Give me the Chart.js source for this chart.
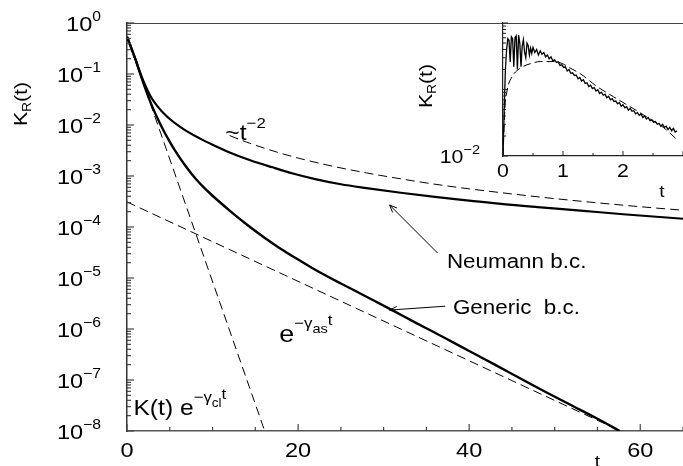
<!DOCTYPE html>
<html>
<head>
<meta charset="utf-8">
<script src="https://cdn.jsdelivr.net/npm/chart.js@4.4.0/dist/chart.umd.min.js"></script>
<style>
  body { margin: 0; background: #fff; }
  #wrap { position: relative; width: 683px; height: 466px; }
  #main { position: absolute; left: 0; top: 0; }
  #inset { position: absolute; left: 400px; top: 0; }
</style>
</head>
<body>
<div id="wrap">
  <canvas id="main" width="683" height="466"></canvas>
  <canvas id="inset" width="283" height="210"></canvas>
</div>
<script>
// main panel: K_R(t) on a log axis
const yDecades = [0, -1, -2, -3, -4, -5, -6, -7, -8];
const xTicks = [0, 20, 40, 60];

const tNeumann = [0, 0.5, 1, 1.5, 2, 2.7, 3.5, 4.7, 6.6, 8.55, 10, 12, 14.4, 17, 19.4, 22, 25, 28, 32, 36, 40, 44, 48, 53, 58, 65];
const kNeumann = [0.537, 0.324, 0.191, 0.110, 0.0676, 0.038, 0.024, 0.0145, 0.0083, 0.0054, 0.0041, 0.0029, 0.00204, 0.00148, 0.00112, 0.00087, 0.00069, 0.00058, 0.00047, 0.00039, 0.00033, 0.00028, 0.000245, 0.00021, 0.000178, 0.000145];

const tGeneric = [0, 0.5, 1, 1.5, 2, 2.5, 3, 4, 5, 6, 7, 8, 9, 10, 12, 14, 16, 18, 20, 22, 25, 28, 31, 34, 37, 40, 43, 46, 49, 52, 55, 57.6];
const kGeneric = [0.537, 0.324, 0.191, 0.107, 0.0603, 0.0355, 0.0219, 0.00955, 0.00468, 0.00251, 0.00145, 0.00089, 0.00059, 0.00041, 0.00021, 1.12e-4, 6.3e-5, 3.7e-5, 2.3e-5, 1.45e-5, 7.8e-6, 4.3e-6, 2.34e-6, 1.26e-6, 6.9e-7, 3.7e-7, 2.0e-7, 1.07e-7, 5.75e-8, 3.16e-8, 1.74e-8, 1.0e-8];

const tPower = [12, 14, 17.5, 20, 24, 28, 32, 36, 40, 45, 50, 55, 60, 65];
const kPower = [6.2e-3, 4.6e-3, 2.95e-3, 2.25e-3, 1.56e-3, 1.15e-3, 8.8e-4, 6.9e-4, 5.6e-4, 4.45e-4, 3.6e-4, 2.98e-4, 2.5e-4, 2.13e-4];

const tAsym = [0, 65];
const kAsym = [3.1e-4, 2.7e-9];

const tClassic = [0, 16.1];
const kClassic = [0.54, 1e-8];

// inset panel
const insetXTicks = [0, 1, 2];
const tInset = [0, 0.02, 0.04, 0.06, 0.08, 0.10, 0.12, 0.14, 0.16, 0.18, 0.20, 0.22, 0.24, 0.26, 0.28, 0.30, 0.32, 0.34, 0.36, 0.38, 0.40, 0.42, 0.44, 0.46, 0.48, 0.50, 0.53, 0.56, 0.59, 0.62, 0.65, 0.68, 0.71, 0.74, 0.77, 0.80, 0.83, 0.86, 0.89, 0.92, 0.95, 0.98, 1.01, 1.04, 1.07, 1.10, 1.13, 1.16, 1.19, 1.22, 1.25, 1.28, 1.31, 1.34, 1.37, 1.40, 1.43, 1.46, 1.49, 1.52, 1.55, 1.58, 1.61, 1.64, 1.67, 1.70, 1.73, 1.76, 1.79, 1.82, 1.85, 1.88, 1.91, 1.94, 1.97, 2.00, 2.03, 2.06, 2.09, 2.12, 2.15, 2.18, 2.21, 2.24, 2.27, 2.30, 2.33, 2.36, 2.39, 2.42, 2.45, 2.48, 2.51, 2.54, 2.57, 2.60, 2.63, 2.66, 2.69, 2.72, 2.75, 2.78, 2.81, 2.84, 2.87, 2.90];
const kInset = [0.010, 0.05, 0.20, 0.40, 0.58, 0.55, 0.26, 0.62, 0.58, 0.22, 0.60, 0.64, 0.20, 0.66, 0.50, 0.22, 0.45, 0.56, 0.36, 0.30, 0.50, 0.46, 0.33, 0.42, 0.35, 0.43, 0.36, 0.40, 0.33, 0.38, 0.34, 0.36, 0.31, 0.33, 0.29, 0.31, 0.27, 0.28, 0.255, 0.26, 0.23, 0.235, 0.215, 0.22, 0.19, 0.20, 0.175, 0.178, 0.162, 0.165, 0.145, 0.152, 0.134, 0.14, 0.123, 0.126, 0.111, 0.116, 0.103, 0.107, 0.095, 0.099, 0.087, 0.091, 0.082, 0.085, 0.075, 0.079, 0.070, 0.073, 0.066, 0.067, 0.061, 0.064, 0.056, 0.059, 0.053, 0.055, 0.049, 0.052, 0.047, 0.048, 0.043, 0.045, 0.041, 0.043, 0.038, 0.040, 0.036, 0.038, 0.034, 0.035, 0.032, 0.033, 0.030, 0.031, 0.028, 0.030, 0.027, 0.028, 0.025, 0.027, 0.024, 0.026, 0.023, 0.024];

const tInsetFit = [0, 0.03, 0.07, 0.15, 0.29, 0.46, 0.62, 0.85, 1.01, 1.1, 1.3, 1.56, 1.84, 2.12, 2.39, 2.67, 2.89];
const kInsetFit = [0.010, 0.049, 0.098, 0.155, 0.21, 0.245, 0.263, 0.263, 0.24, 0.215, 0.17, 0.112, 0.078, 0.055, 0.039, 0.027, 0.018];

const FONT = '"Liberation Sans", Arial, Helvetica, sans-serif';
const STRETCH = 1.12;

function pts(ts, ks) {
  return ts.map((t, i) => ({ x: t, y: ks[i] }));
}

function runsWidth(ctx, runs) {
  let w = 0;
  runs.forEach(r => {
    ctx.font = r.size + 'px ' + FONT;
    w += ctx.measureText(r.text).width * STRETCH + (r.gap || 0);
  });
  return w;
}

// draw text pieces left to right, y is the baseline
function drawRuns(ctx, runs, x, y, align) {
  const w = runsWidth(ctx, runs);
  let cx = align === 'right' ? x - w : align === 'center' ? x - w / 2 : x;
  ctx.save();
  ctx.fillStyle = '#000';
  ctx.textAlign = 'left';
  ctx.textBaseline = 'alphabetic';
  runs.forEach(r => {
    ctx.font = r.size + 'px ' + FONT;
    ctx.save();
    ctx.translate(cx, y + (r.dy || 0));
    ctx.scale(STRETCH, 1);
    ctx.fillText(r.text, 0, 0);
    ctx.restore();
    cx += ctx.measureText(r.text).width * STRETCH + (r.gap || 0);
  });
  ctx.restore();
}

function line(ctx, x1, y1, x2, y2) {
  ctx.beginPath();
  ctx.moveTo(x1, y1);
  ctx.lineTo(x2, y2);
  ctx.stroke();
}

function arrow(ctx, x1, y1, x2, y2) {
  const a = Math.atan2(y2 - y1, x2 - x1);
  ctx.save();
  ctx.strokeStyle = '#000';
  ctx.lineWidth = 1;
  line(ctx, x1, y1, x2, y2);
  line(ctx, x2, y2, x2 - 8 * Math.cos(a - 0.4), y2 - 8 * Math.sin(a - 0.4));
  line(ctx, x2, y2, x2 - 8 * Math.cos(a + 0.4), y2 - 8 * Math.sin(a + 0.4));
  ctx.restore();
}

const mainDecor = {
  id: 'mainDecor',
  afterDraw(chart) {
    const { ctx, chartArea: a, scales: { x, y } } = chart;
    ctx.save();
    ctx.strokeStyle = '#444';
    ctx.lineWidth = 1.2;
    line(ctx, a.left, a.top + 0.5, a.right, a.top + 0.5);

    // y ticks, pointing into the plot
    yDecades.forEach(d => {
      const py = y.getPixelForValue(Math.pow(10, d));
      line(ctx, a.left, py, a.left + 7, py);
      if (d < 0) {
        for (let m = 2; m <= 9; m++) {
          const pm = y.getPixelForValue(m * Math.pow(10, d));
          line(ctx, a.left, pm, a.left + 4, pm);
        }
      }
    });
    // x ticks
    for (let t = 0; t <= 65; t += 5) {
      const px = x.getPixelForValue(t);
      line(ctx, px, a.bottom, px, a.bottom - (xTicks.includes(t) ? 7 : 4));
    }
    ctx.restore();

    yDecades.forEach(d => {
      const py = y.getPixelForValue(Math.pow(10, d));
      drawRuns(ctx, [{ text: '10', size: 21 }, { text: d === 0 ? '0' : '\u2212' + (-d), size: 14, dy: -10 }], 101, py + 7.5, 'right');
    });
    xTicks.forEach(t => {
      drawRuns(ctx, [{ text: String(t), size: 21 }], x.getPixelForValue(t), a.bottom + 26, 'center');
    });
    drawRuns(ctx, [{ text: 't', size: 17 }], x.getPixelForValue(55), 467, 'center');

    // axis title, rotated
    ctx.save();
    ctx.translate(27, 104);
    ctx.rotate(-Math.PI / 2);
    drawRuns(ctx, [{ text: 'K', size: 19 }, { text: 'R', size: 12, dy: 4 }, { text: '(t)', size: 19 }], 0, 0, 'center');
    ctx.restore();

    // annotations
    drawRuns(ctx, [{ text: '~t', size: 22 }, { text: '\u22122', size: 15, dy: -12 }], x.getPixelForValue(11.5), y.getPixelForValue(5.0e-3), 'left');
    drawRuns(ctx, [{ text: 'Neumann b.c.', size: 20 }], x.getPixelForValue(37.4), y.getPixelForValue(1.6e-5), 'left');
    arrow(ctx, x.getPixelForValue(36.3), y.getPixelForValue(3.1e-5), x.getPixelForValue(30.7), y.getPixelForValue(2.7e-4));
    drawRuns(ctx, [{ text: 'Generic  b.c.', size: 20 }], x.getPixelForValue(38.1), y.getPixelForValue(1.96e-6), 'left');
    arrow(ctx, x.getPixelForValue(37.2), y.getPixelForValue(2.8e-6), x.getPixelForValue(30.7), y.getPixelForValue(2.35e-6));
    drawRuns(ctx, [{ text: 'e', size: 24 }, { text: '\u2212\u03b3', size: 15, dy: -14 }, { text: 'as', size: 13, dy: -9 }, { text: 't', size: 15, dy: -17 }],
      x.getPixelForValue(17.8), y.getPixelForValue(5.6e-7), 'left');
    drawRuns(ctx, [{ text: 'K(t) e', size: 22 }, { text: '\u2212\u03b3', size: 15, dy: -13 }, { text: 'cl', size: 12, dy: -8 }, { text: 't', size: 15, dy: -16 }],
      x.getPixelForValue(0.75), y.getPixelForValue(2.05e-8), 'left');
  }
};

const insetDecor = {
  id: 'insetDecor',
  afterDraw(chart) {
    const { ctx, chartArea: a, scales: { x, y } } = chart;
    ctx.save();
    ctx.strokeStyle = '#222';
    ctx.lineWidth = 1;
    [-2, -1, 0].forEach(d => {
      const py = y.getPixelForValue(Math.pow(10, d));
      line(ctx, a.left, py, a.left + 5, py);
      if (d < 0) {
        for (let m = 2; m <= 9; m++) {
          const pm = y.getPixelForValue(m * Math.pow(10, d));
          line(ctx, a.left, pm, a.left + 3, pm);
        }
      }
    });
    for (let t = 0; t <= 3; t += 0.5) {
      const px = x.getPixelForValue(t);
      line(ctx, px, a.bottom, px, a.bottom - (t % 1 === 0 ? 5 : 3));
    }
    ctx.restore();

    drawRuns(ctx, [{ text: '10', size: 19 }, { text: '\u22122', size: 13, dy: -9 }], a.left - 23, y.getPixelForValue(0.01) + 7, 'right');
    insetXTicks.forEach(t => {
      drawRuns(ctx, [{ text: String(t), size: 19 }], x.getPixelForValue(t), a.bottom + 21, 'center');
    });
    drawRuns(ctx, [{ text: 't', size: 17 }], x.getPixelForValue(2.65), a.bottom + 41, 'center');

    ctx.save();
    ctx.translate(32, 86);
    ctx.rotate(-Math.PI / 2);
    drawRuns(ctx, [{ text: 'K', size: 19 }, { text: 'R', size: 12, dy: 4 }, { text: '(t)', size: 19 }], 0, 0, 'center');
    ctx.restore();
  }
};

const dashed = { borderColor: '#000', borderWidth: 1, borderDash: [9, 5], pointRadius: 0, fill: false };
const solid = { borderColor: '#000', borderWidth: 2.2, pointRadius: 0, fill: false, cubicInterpolationMode: 'monotone' };

new Chart(document.getElementById('main'), {
  type: 'line',
  data: {
    datasets: [
      { ...dashed, data: pts(tClassic, kClassic) },
      { ...dashed, data: pts(tAsym, kAsym) },
      { ...dashed, data: pts(tPower, kPower), cubicInterpolationMode: 'monotone' },
      { ...solid, data: pts(tNeumann, kNeumann) },
      { ...solid, data: pts(tGeneric, kGeneric), borderWidth: 2.4 }
    ]
  },
  options: {
    responsive: false,
    animation: false,
    events: [],
    layout: { padding: { left: 0, right: 0, top: 23, bottom: 0 } },
    plugins: { legend: { display: false }, tooltip: { enabled: false } },
    scales: {
      x: {
        type: 'linear', min: 0, max: 65,
        ticks: { display: false }, grid: { display: false },
        border: { color: '#555', width: 1.5 },
        afterFit: s => { s.height = 35; }
      },
      y: {
        type: 'logarithmic', min: 1e-8, max: 1,
        ticks: { display: false }, grid: { display: false },
        border: { color: '#333', width: 1.5 },
        afterFit: s => { s.width = 127; }
      }
    }
  },
  plugins: [mainDecor]
});

new Chart(document.getElementById('inset'), {
  type: 'line',
  data: {
    datasets: [
      { ...dashed, borderDash: [8, 4], data: pts(tInsetFit, kInsetFit), cubicInterpolationMode: 'monotone' },
      { borderColor: '#000', borderWidth: 1.3, pointRadius: 0, fill: false, data: pts(tInset, kInset) }
    ]
  },
  options: {
    responsive: false,
    animation: false,
    events: [],
    layout: { padding: { left: 0, right: 0, top: 23, bottom: 0 } },
    plugins: { legend: { display: false }, tooltip: { enabled: false } },
    scales: {
      x: {
        type: 'linear', min: 0, max: 3,
        ticks: { display: false }, grid: { display: false },
        border: { color: '#222', width: 1.2 },
        afterFit: s => { s.height = 54; }
      },
      y: {
        type: 'logarithmic', min: 0.01, max: 1,
        ticks: { display: false }, grid: { display: false },
        border: { color: '#222', width: 1.2 },
        afterFit: s => { s.width = 103; }
      }
    }
  },
  plugins: [insetDecor]
});
</script>
</body>
</html>
